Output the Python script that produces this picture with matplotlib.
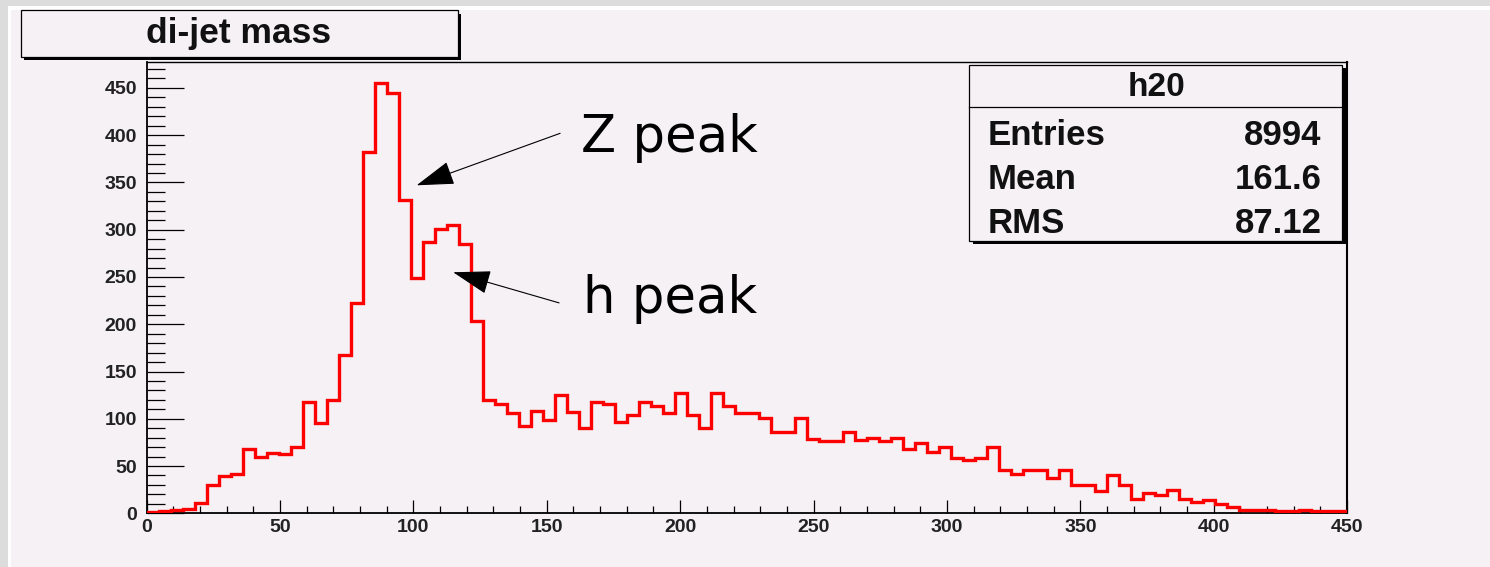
import numpy as np
import matplotlib
matplotlib.use('Agg')
import matplotlib.pyplot as plt
from matplotlib.patches import Rectangle
from matplotlib.lines import Line2D
from matplotlib.ticker import MultipleLocator

# h20: di-jet invariant mass, 100 bins from 0 to 450
x_min, x_max, n_bins = 0.0, 450.0, 100
counts = [
    1, 2, 3, 5, 11, 30, 39, 42, 68, 60,
    64, 63, 70, 118, 95, 120, 167, 222, 382, 455,
    445, 331, 249, 287, 301, 305, 285, 203, 120, 116,
    106, 92, 108, 99, 125, 107, 90, 118, 116, 97,
    104, 118, 114, 106, 127, 104, 90, 127, 114, 106,
    106, 101, 86, 86, 101, 79, 77, 77, 86, 78,
    80, 76, 80, 68, 74, 65, 70, 58, 56, 58,
    70, 46, 42, 46, 46, 37, 46, 30, 30, 24,
    40, 30, 15, 21, 19, 25, 15, 12, 14, 10,
    7, 4, 4, 3, 2, 2, 4, 2, 2, 2,
]
hist_name = 'h20'
hist_title = 'di-jet mass'
stat_names = ['Entries', 'Mean', 'RMS']
stat_values = ['8994', '161.6', '87.12']

# arrows: (label, text position, arrow start, arrow tip) in data units
notes = [
    ('Z peak', (163.0, 382.0), (155.0, 402.0), (101.2, 347.0)),
    ('h peak', (163.5, 212.0), (154.6, 222.6), (114.9, 255.0)),
]

W, H = 1490, 567
canvas_col = '#f5f1f5'
edges = np.linspace(x_min, x_max, n_bins + 1)

fig = plt.figure(figsize=(W / 100, H / 100), dpi=100, facecolor=canvas_col)


def fx(px):
    return px / W


def fy(py):
    return 1 - py / H


# window border
fig.add_artist(Rectangle((0, fy(6)), 1, fy(0) - fy(6), transform=fig.transFigure,
                         facecolor='#dcdcdc', edgecolor='none', zorder=0))
fig.add_artist(Rectangle((0, 0), fx(8), 1, transform=fig.transFigure,
                         facecolor='#dcdcdc', edgecolor='none', zorder=0))
fig.add_artist(Rectangle((fx(8), fy(9.5)), 1, fy(6) - fy(9.5), transform=fig.transFigure,
                         facecolor='white', edgecolor='none', zorder=0))
fig.add_artist(Rectangle((fx(8), 0), fx(11) - fx(8), fy(6), transform=fig.transFigure,
                         facecolor='white', edgecolor='none', zorder=0))

ax = fig.add_axes([fx(146.7), fy(513.3), fx(1347) - fx(146.7), fy(61.7) - fy(513.3)])
ax.set_facecolor(canvas_col)
ax.stairs(counts, edges, baseline=0, color='#ff0000', lw=2.4, zorder=3)

ax.set_xlim(x_min, x_max)
ax.set_ylim(0, 1.05 * max(counts))
ax.xaxis.set_major_locator(MultipleLocator(50))
ax.xaxis.set_minor_locator(MultipleLocator(10))
ax.yaxis.set_major_locator(MultipleLocator(50))
ax.yaxis.set_minor_locator(MultipleLocator(10))
ax.tick_params(axis='y', which='major', direction='in', length=26.5, width=0.9, pad=7,
               labelsize=14, labelcolor='#222222')
ax.tick_params(axis='y', which='minor', direction='in', length=13, width=0.9)
ax.tick_params(axis='x', which='major', direction='in', length=9.7, width=0.9, pad=4,
               labelsize=14, labelcolor='#222222')
ax.tick_params(axis='x', which='minor', direction='in', length=4.9, width=0.9)
for lab in ax.get_xticklabels() + ax.get_yticklabels():
    lab.set_fontweight('bold')
    lab.set_family('Liberation Sans')
for s in ax.spines.values():
    s.set_color('black')
    s.set_linewidth(1.0)
ax.spines['left'].set_linewidth(1.3)
ax.spines['bottom'].set_linewidth(1.3)
ax.spines['right'].set_linewidth(1.5)

for label, txt_pos, start, tip in notes:
    ax.annotate('', xy=tip, xytext=start,
                arrowprops=dict(arrowstyle='-|>,head_length=2.4,head_width=0.76',
                                mutation_scale=10, color='black', lw=0.8,
                                shrinkA=0, shrinkB=0), zorder=5)
    ax.text(txt_pos[0], txt_pos[1], label, fontsize=37, family='DejaVu Sans',
            ha='left', va='baseline', color='black', zorder=5)


def pave(x0, y0, x1, y1, shadow=3.5):
    fig.add_artist(Rectangle((fx(x0 + shadow), fy(y1 + shadow)), fx(x1 - x0), fy(y0) - fy(y1),
                             transform=fig.transFigure, facecolor='black',
                             edgecolor='none', zorder=4))
    fig.add_artist(Rectangle((fx(x0), fy(y1)), fx(x1 - x0), fy(y0) - fy(y1),
                             transform=fig.transFigure, facecolor=canvas_col,
                             edgecolor='black', lw=0.9, zorder=4.1))


# title pave
pave(20.7, 10, 458, 56.5)
fig.text(fx(239), fy(34), hist_title, ha='center', va='center', fontsize=25.5,
         fontweight='bold', family='Liberation Sans', color='#111111', zorder=5)

# stats box
pave(969.3, 65, 1342, 241)
fig.add_artist(Line2D([fx(969.3), fx(1342)], [fy(106.7), fy(106.7)],
                      transform=fig.transFigure, color='black', lw=0.9, zorder=4.2))
fig.text(fx(1156), fy(87), hist_name, ha='center', va='center', fontsize=24,
         fontweight='bold', family='Liberation Sans', color='#111111', zorder=5)
for i, (name, val) in enumerate(zip(stat_names, stat_values)):
    yb = fy(145 + 44 * i)
    fig.text(fx(988), yb, name, ha='left', va='baseline', fontsize=25,
             fontweight='bold', family='Liberation Sans', color='#111111', zorder=5)
    fig.text(fx(1321.7), yb, val, ha='right', va='baseline', fontsize=25,
             fontweight='bold', family='Liberation Sans', color='#111111', zorder=5)

fig.savefig('out.png', dpi=100, facecolor=canvas_col)
